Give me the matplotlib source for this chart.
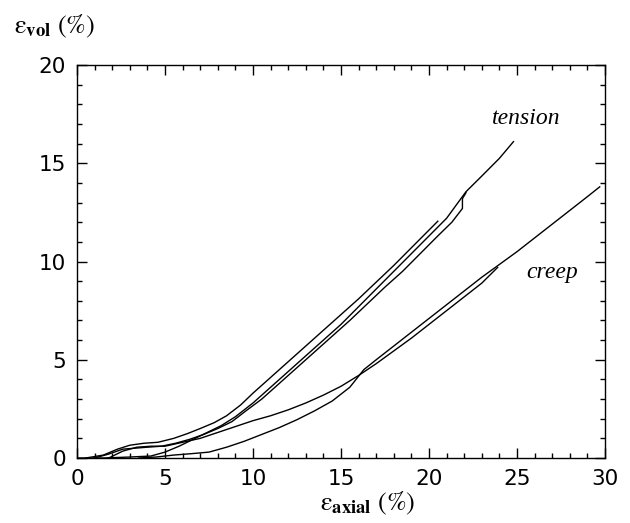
import matplotlib
matplotlib.use("Agg")
import matplotlib.pyplot as plt
from matplotlib.ticker import MultipleLocator

# --- data ---
t1_x = [0.5, 1.5, 2.3, 3.0, 3.8, 4.6, 5.5, 6.3, 7.0, 7.8, 8.5, 9.3, 10.0, 11.0, 12.0, 13.0, 14.0, 15.0, 16.0, 17.0, 18.0, 19.0, 20.0, 20.5]
t1_y = [0.0, 0.15, 0.45, 0.65, 0.75, 0.8, 1.0, 1.25, 1.5, 1.8, 2.15, 2.7, 3.3, 4.1, 4.9, 5.7, 6.5, 7.3, 8.1, 8.95, 9.8, 10.7, 11.6, 12.05]

t2_x = [1.0, 1.8, 2.6, 3.3, 4.0, 4.8, 5.6, 6.4, 7.2, 8.0, 8.8, 9.6, 10.5, 11.5, 12.5, 13.5, 14.5, 15.5, 16.5, 17.5, 18.5, 19.5, 20.5, 21.3, 21.9, 21.9, 22.1]
t2_y = [0.0, 0.2, 0.45, 0.5, 0.55, 0.6, 0.75, 0.95, 1.2, 1.5, 1.85, 2.4, 3.0, 3.8, 4.6, 5.4, 6.2, 7.0, 7.85, 8.7, 9.5, 10.4, 11.3, 12.0, 12.7, 13.2, 13.5]

t3_x = [0.0, 1.5, 3.0, 4.2, 5.0, 5.8, 6.6, 7.4, 8.2, 9.0, 10.0, 11.0, 12.0, 13.0, 14.0, 15.0, 16.0, 17.0, 18.0, 19.0, 20.0, 21.0, 22.1, 23.0, 24.0, 24.8]
t3_y = [0.0, 0.0, 0.05, 0.1, 0.3, 0.6, 0.95, 1.3, 1.65, 2.1, 2.8, 3.6, 4.4, 5.2, 6.0, 6.8, 7.7, 8.6, 9.5, 10.4, 11.3, 12.2, 13.55, 14.35, 15.25, 16.1]

c1_x = [1.8, 2.6, 3.4, 4.2, 5.0, 6.0, 7.0, 8.0, 9.0, 10.0, 11.0, 12.0, 13.0, 14.0, 15.0, 16.0, 17.0, 18.0, 19.0, 20.0, 21.0, 22.0, 23.0, 23.9]
c1_y = [0.0, 0.35, 0.55, 0.6, 0.6, 0.8, 1.0, 1.3, 1.6, 1.9, 2.15, 2.45, 2.8, 3.2, 3.65, 4.2, 4.8, 5.45, 6.1, 6.8, 7.5, 8.2, 8.9, 9.7]

c2_x = [3.5, 4.5, 5.5, 6.5, 7.5, 8.5, 9.5, 10.5, 11.5, 12.5, 13.5, 14.5, 15.5, 16.3, 17.0, 18.0, 19.0, 20.0, 21.0, 22.0, 23.0, 24.0, 25.0, 26.0, 27.0, 28.0, 29.0, 29.7]
c2_y = [0.0, 0.05, 0.15, 0.22, 0.3, 0.55, 0.85, 1.2, 1.55, 1.95, 2.4, 2.9, 3.6, 4.5, 5.0, 5.7, 6.4, 7.1, 7.8, 8.5, 9.2, 9.85, 10.5, 11.2, 11.9, 12.6, 13.3, 13.8]

tension_label = "tension"
creep_label = "creep"

plt.rcParams["mathtext.fontset"] = "stix"

fig = plt.figure(figsize=(6.3, 5.23), dpi=100)
ax = fig.add_axes([77/630, 1-458/523, 528/630, 393/523])

for xs, ys in [(t1_x, t1_y), (t2_x, t2_y), (t3_x, t3_y), (c1_x, c1_y), (c2_x, c2_y)]:
    ax.plot(xs, ys, color="black", lw=1.0)

ax.set_xlim(0, 30)
ax.set_ylim(0, 20)
ax.xaxis.set_major_locator(MultipleLocator(5))
ax.xaxis.set_minor_locator(MultipleLocator(1))
ax.yaxis.set_major_locator(MultipleLocator(5))
ax.yaxis.set_minor_locator(MultipleLocator(1))
ax.tick_params(which="both", direction="in", top=True, right=True, width=1.0)
ax.tick_params(which="major", length=7, labelsize=15.5, pad=8)
ax.tick_params(which="minor", length=3.5)
for s in ax.spines.values():
    s.set_linewidth(1.0)

ax.text(25.5, 17.3, tension_label, fontsize=17, style="italic",
        family="Liberation Serif", ha="center", va="center")
ax.text(27.0, 9.45, creep_label, fontsize=17, style="italic",
        family="Liberation Serif", ha="center", va="center")

fig.text(14/630, 1-26/523, r"$\mathrm{ε}_{\mathbf{vol}}\ (\%)$", fontsize=19,
         ha="left", va="center")
fig.text(320/630, 1-503/523, r"$\mathrm{ε}_{\mathbf{axial}}\ (\%)$", fontsize=19,
         ha="left", va="center")

fig.savefig("out.png", dpi=100)
